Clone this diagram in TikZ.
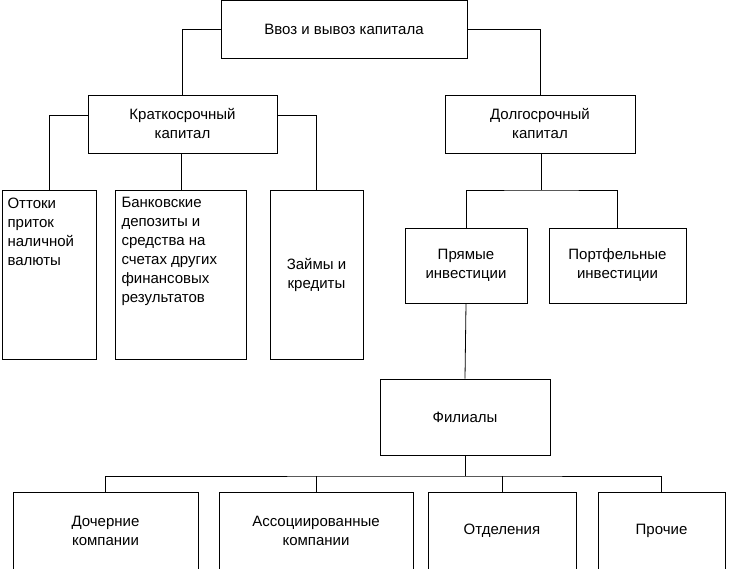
\documentclass[tikz,border=0pt]{standalone}
\usepackage{fontspec}
\setmainfont{Liberation Sans}
\usetikzlibrary{positioning}

\begin{document}
\begin{tikzpicture}[x=1pt, y=-1pt,
    every node/.style={font=\fontsize{15}{19}\selectfont},
    box/.style={draw, thick, align=center, inner sep=2pt},
    link/.style={thick}]
  \useasboundingbox (0,0) rectangle (731,569);
  % Top level
  \node[box, minimum width=246, minimum height=58] (flow) at (344,29) {Ввоз и вывоз капитала};
  \node[box, minimum width=189, minimum height=58] (short) at (182.5,124) {Краткосрочный\\капитал};
  \node[box, minimum width=190, minimum height=58] (long) at (540,124) {Долгосрочный\\капитал};
  \draw[link] (flow.west) -| (short.north);
  \draw[link] (flow.east) -| (long.north);

  % Short-term branches
  \node[box, minimum width=94, minimum height=169, text width=88, align=left, anchor=north west, inner sep=3pt] (cash) at (2,190) {};
  \node[anchor=north west, align=left] at (4,194) {Оттоки\\приток\\наличной\\валюты};
  \node[box, minimum width=131, minimum height=169, anchor=north west] (bank) at (115,190) {};
  \node[anchor=north west, align=left] at (118,194) {Банковские\\депозиты и\\средства на\\счетах других\\финансовых\\результатов};
  \node[box, minimum width=93, minimum height=169] (loan) at (316.5,274.5) {Займы и\\кредиты};
  \draw[link] ([yshift=9]short.west) -| (cash.north);
  \draw[link] ([yshift=9]short.east) -| (loan.north);
  \draw[link] (short.south -| bank.north) -- (bank.north);

  % Long-term branches
  \node[box, minimum width=122, minimum height=75] (direct) at (466,265.5) {Прямые\\инвестиции};
  \node[box, minimum width=137, minimum height=75] (folio) at (617.5,265.5) {Портфельные\\инвестиции};
  \coordinate (lsplit) at (541,190);
  \draw[link] (long.south -| lsplit) -- (lsplit);
  \draw[link] (direct.north) |- (lsplit) -| (folio.north);

  % Branches of direct investment
  \node[box, minimum width=170, minimum height=76] (branch) at (465,417) {Филиалы};
  \draw[link] (direct.south) -- (branch.north);
  \node[box, minimum width=185, minimum height=77] (sub) at (105.5,530.5) {Дочерние\\компании};
  \node[box, minimum width=194, minimum height=77] (assoc) at (316,530.5) {Ассоциированные\\компании};
  \node[box, minimum width=148, minimum height=77] (dept) at (502,530.5) {Отделения};
  \node[box, minimum width=127, minimum height=77] (other) at (661.5,530.5) {Прочие};
  \coordinate (bsplit) at (465,476);
  \draw[link] (branch.south) -- (bsplit);
  \draw[link] (sub.north) |- (bsplit) -| (other.north);
  \draw[link] (assoc.north) -- (assoc.north |- bsplit);
  \draw[link] (dept.north) -- (dept.north |- bsplit);
\end{tikzpicture}
\end{document}
